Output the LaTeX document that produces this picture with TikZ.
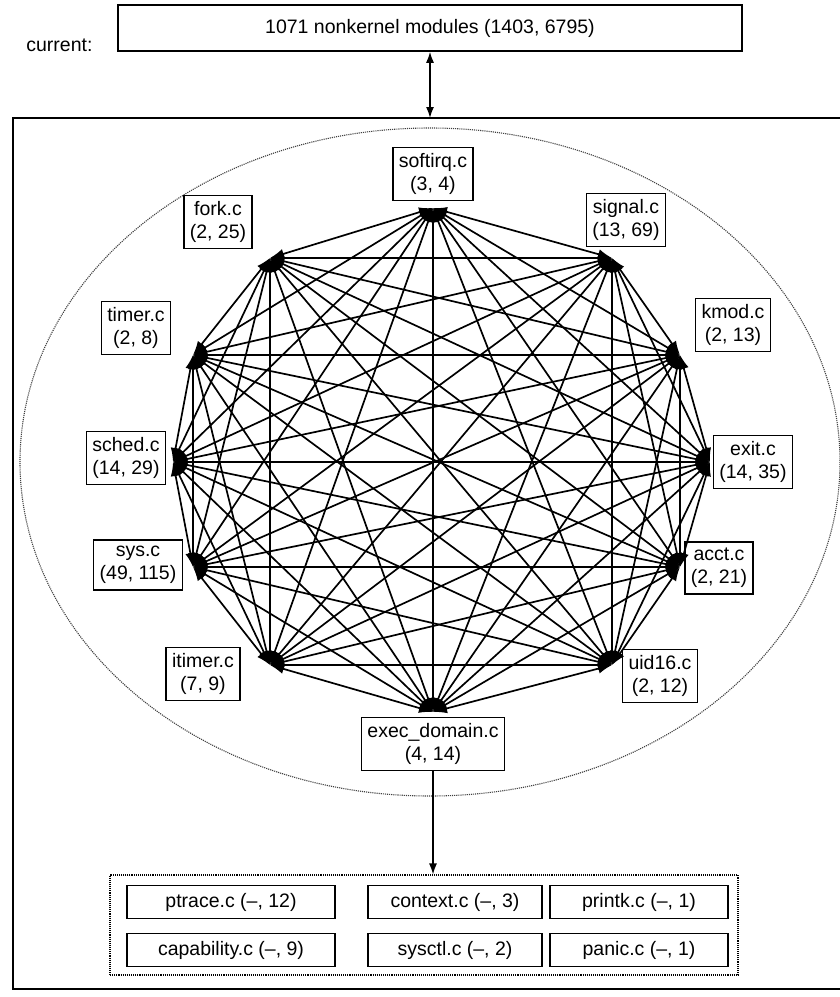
\documentclass[tikz,border=0pt]{standalone}
\usepackage{fontspec}
\setmainfont{Liberation Sans}
\usetikzlibrary{arrows.meta}
\begin{document}
\begin{tikzpicture}[x=1pt,y=-1pt,
  lbl/.style={draw, line width=1.5pt, align=center, font=\fontsize{19.5}{23}\selectfont, inner xsep=6pt, inner ysep=6pt},
  inbox/.style={draw, line width=1.5pt, font=\fontsize{19.5}{23}\selectfont, minimum height=33pt},
  edge/.style={line width=1.7pt, {Latex[length=14pt,width=10pt]}-{Latex[length=14pt,width=10pt]}}]
\useasboundingbox (0,0) rectangle (840,997);
\fill[white] (0,0) rectangle (840,997);
% top
\node[font=\fontsize{19.5}{23}\selectfont, anchor=east] (cur) at (96,45) {current:};
\node[draw, line width=1.5pt, minimum width=624pt, minimum height=46pt, font=\fontsize{19.5}{23}\selectfont] (top) at (430,28) {1071 nonkernel modules (1403, 6795)};
% outer box
\draw[line width=1.5pt] (13,118) rectangle (850,989);
\coordinate (ot) at (430,118);
\draw[line width=1.5pt, {Latex[length=11pt,width=8pt]}-{Latex[length=11pt,width=8pt]}] (top.south) -- (ot);
% ellipse
\draw[densely dotted, line width=1.1pt, black!75] (430,462) ellipse [x radius=410, y radius=334];
% vertices
\coordinate (v1) at (433,208);
\coordinate (v2) at (612,258);
\coordinate (v3) at (680,355);
\coordinate (v4) at (710,462);
\coordinate (v5) at (680,567);
\coordinate (v6) at (612,665);
\coordinate (v7) at (433,712);
\coordinate (v8) at (270,665);
\coordinate (v9) at (193,567);
\coordinate (v10) at (173,462);
\coordinate (v11) at (193,355);
\coordinate (v12) at (270,258);
\foreach \i in {1,...,11}{
  \pgfmathtruncatemacro\s{\i+1}
  \foreach \j in {\s,...,12}{
    \draw[edge] (v\i) -- (v\j);
  }
}
% labels
\node[lbl] (softirq) at (433,174) {softirq.c\\(3, 4)};
\node[lbl] (signal) at (626,220) {signal.c\\(13, 69)};
\node[lbl] (kmod) at (733,325) {kmod.c\\(2, 13)};
\node[lbl] (exit) at (753,462) {exit.c\\(14, 35)};
\node[lbl] (acct) at (719,568) {acct.c\\(2, 21)};
\node[lbl] (uid16) at (660,676) {uid16.c\\(2, 12)};
\node[lbl] (exec) at (433,744) {exec\_domain.c\\(4, 14)};
\node[lbl] (itimer) at (203,674) {itimer.c\\(7, 9)};
\node[lbl] (sys) at (138,565) {sys.c\\(49, 115)};
\node[lbl] (sched) at (126,458) {sched.c\\(14, 29)};
\node[lbl] (timer) at (136,328) {timer.c\\(2, 8)};
\node[lbl] (fork) at (218,222) {fork.c\\(2, 25)};
% bottom
\node[draw, densely dotted, line width=1.1pt, minimum width=628pt, minimum height=100pt] (dotbox) at (424,925) {};
\draw[line width=1.5pt, -{Latex[length=11pt,width=8pt]}] (exec.south) -- (exec.south |- dotbox.north);
\node[inbox, minimum width=208pt] (ptrace) at (231,902) {ptrace.c (–, 12)};
\node[inbox, minimum width=208pt] (capab) at (231,950) {capability.c (–, 9)};
\node[inbox, minimum width=174pt] (context) at (455,902) {context.c (–, 3)};
\node[inbox, minimum width=174pt] (sysctl) at (455,950) {sysctl.c (–, 2)};
\node[inbox, minimum width=178pt] (printk) at (639,902) {printk.c (–, 1)};
\node[inbox, minimum width=178pt] (panic) at (639,950) {panic.c (–, 1)};
\end{tikzpicture}
\end{document}
